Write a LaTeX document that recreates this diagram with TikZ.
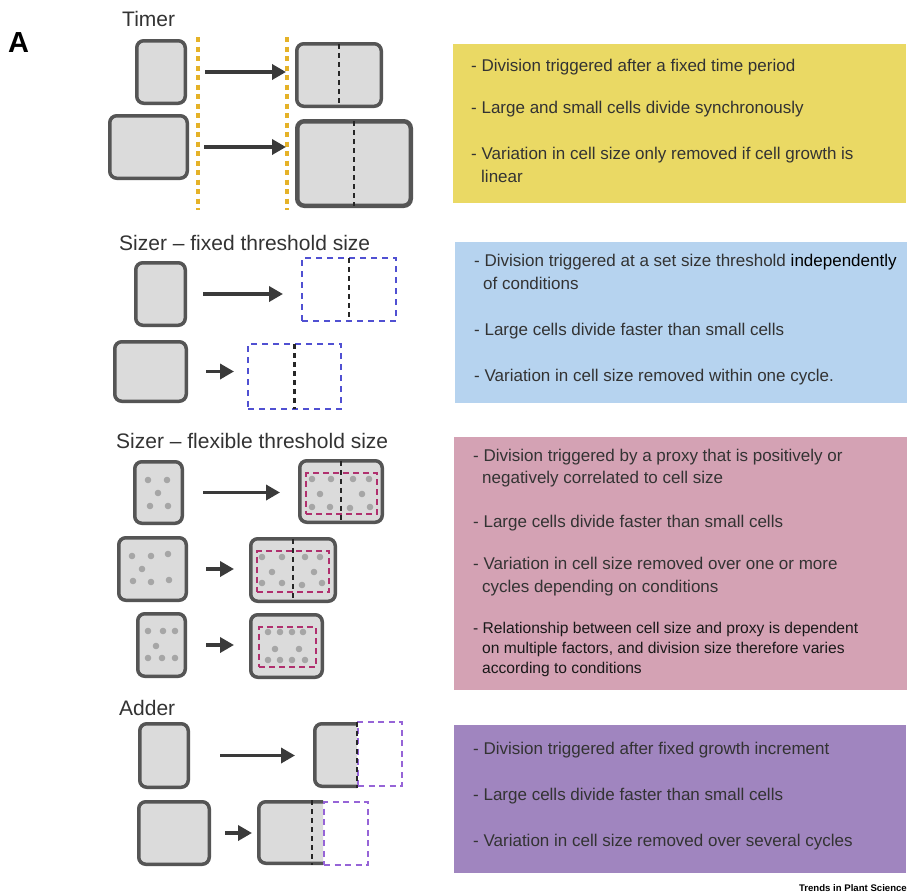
\documentclass[tikz,border=0pt]{standalone}
\usepackage{fontspec}
\setmainfont{Liberation Sans}
\usetikzlibrary{arrows.meta,calc}
\definecolor{cellfill}{RGB}{219,219,219}
\definecolor{celldraw}{RGB}{85,85,85}
\definecolor{arrowc}{RGB}{58,58,58}
\definecolor{gold}{RGB}{229,178,40}
\definecolor{bluedash}{RGB}{80,80,210}
\definecolor{pinkdash}{RGB}{176,48,110}
\definecolor{purpdash}{RGB}{150,100,215}
\definecolor{dotc}{RGB}{166,166,166}
\definecolor{yellowbg}{RGB}{234,217,100}
\definecolor{bluebg}{RGB}{182,211,239}
\definecolor{pinkbg}{RGB}{212,162,180}
\definecolor{purplebg}{RGB}{160,133,191}
\definecolor{textc}{RGB}{51,51,51}
\newcommand{\mkrect}[7]{\node[#2, minimum width={#5-#3-#7}, minimum height={#6-#4-#7}] (#1) at ({(#3+#5)/2},{(#4+#6)/2}) {};}
\tikzset{
 cell/.style={draw=celldraw, fill=cellfill, line width=3.5pt, rounded corners=7pt, inner sep=0pt, outer sep=0pt},
 thickcell/.style={cell, line width=4.5pt},
 bluebox/.style={draw=bluedash, line width=2pt, dash pattern=on 6pt off 5pt, inner sep=0pt, outer sep=0pt},
 pinkbox/.style={draw=pinkdash, line width=2.2pt, dash pattern=on 6pt off 4pt, inner sep=0pt, outer sep=0pt},
 purpbox/.style={draw=purpdash, line width=2pt, dash pattern=on 6pt off 4.5pt, inner sep=0pt, outer sep=0pt},
 divider/.style={draw=black!85, line width=2.6pt, dash pattern=on 5pt off 4pt},
 goldline/.style={draw=gold, line width=3.5pt, dash pattern=on 5pt off 4.5pt},
 arr/.style={draw=arrowc, line width=3.7pt, -{Triangle[length=14pt,width=15pt]}},
 bg/.style={fill=#1, draw=none, inner sep=0pt, outer sep=0pt},
 title/.style={anchor=base west, inner sep=0pt, text=textc, font=\fontsize{21}{25}\selectfont},
 tl/.style={anchor=base west, inner sep=0pt, text=textc, font=\fontsize{17}{23}\selectfont},
 tls/.style={anchor=base west, inner sep=0pt, text=black!90, font=\fontsize{15.6}{20}\selectfont},
 cdot/.style={fill=dotc},
}
\begin{document}
\begin{tikzpicture}[x=1pt,y=-1pt]
\useasboundingbox[fill=white] (0,0) rectangle (908,894);

% ---------- panel label ----------
\node[anchor=base west, inner sep=0pt, font=\fontsize{29}{32}\selectfont\bfseries] (lblA) at (8,52) {A};

% ---------- background text boxes ----------
\mkrect{ybox}{bg=yellowbg}{453}{44}{906}{203}{0}
\mkrect{bbox}{bg=bluebg}{455}{242}{907}{403}{0}
\mkrect{pbox}{bg=pinkbg}{454}{437}{907}{690}{0}
\mkrect{ubox}{bg=purplebg}{454}{725}{906}{873}{0}

% ---------- titles ----------
\node[title] (tT) at (122,26) {Timer};
\node[title] (tS) at (119,250) {Sizer – fixed threshold size};
\node[title] (tF) at (116,448) {Sizer – flexible threshold size};
\node[title] (tA) at (119,715) {Adder};

% ---------- Timer ----------
\draw[goldline] (198,37) -- (198,210);
\draw[goldline] (287,37) -- (287,210);
\mkrect{t1}{cell}{135}{39}{187}{105}{3.5}
\mkrect{t2}{cell}{108}{114}{189}{180}{3.5}
\mkrect{r1}{cell}{295}{42}{383}{108}{3.5}
\mkrect{r2}{thickcell}{295}{119}{413}{208}{4.5}
\draw[divider] (r1.north) -- (r1.south);
\draw[divider] (r2.north) -- (r2.south);
\draw[arr, shorten >=10.75pt] ([xshift=19.75pt]t1.east) -- (t1.east -| r1.west);
\draw[arr, shorten >=11.25pt] ([xshift=16.75pt]t2.east) -- (t2.east -| r2.west);

% ---------- Sizer fixed ----------
\mkrect{s1}{cell}{134}{261}{187}{327}{3.5}
\mkrect{s2}{cell}{113}{340}{188}{403}{3.5}
\mkrect{sb1}{bluebox}{301}{257}{397}{322}{2}
\mkrect{sb2}{bluebox}{247}{343}{342}{410}{2}
\draw[divider] (sb1.north) -- (sb1.south);
\draw[divider] (sb2.north) -- (sb2.south);
\draw[arr, shorten >=19pt] ([xshift=17.75pt]s1.east) -- (s1.east -| sb1.west);
\draw[arr, shorten >=14pt] ([xshift=19.75pt]s2.east) -- (s2.east -| sb2.west);

% ---------- Sizer flexible ----------
\mkrect{f1}{cell}{133}{460}{184}{525}{3.5}
\mkrect{f2}{cell}{117}{536}{188}{602}{3.5}
\mkrect{f3}{cell}{136}{612}{187}{678}{3.5}
\mkrect{fr1}{cell}{298}{459}{384}{524}{3.5}
\mkrect{fr2}{cell}{249}{537}{337}{603}{3.5}
\mkrect{fr3}{cell}{249}{613}{324}{679}{3.5}
\draw[divider] (fr1.north) -- (fr1.south);
\draw[divider] (fr2.north) -- (fr2.south);
\mkrect{fp1}{pinkbox}{305}{472}{378}{515}{2.2}
\mkrect{fp2}{pinkbox}{256}{550}{330}{593}{2.2}
\mkrect{fp3}{pinkbox}{258}{626}{317}{668}{2.2}
\foreach \p in {(148,480),(167,480),(158,493),(150,506),(168,506),
  (312,479),(331,479),(353,479),(369,479),(320,494),(362,494),(312,507),(330,507),(350,508),(370,507),
  (132,556),(151,556),(168,554),(142,569),(133,581),(151,582),(169,580),
  (262,557),(282,557),(305,557),(320,557),(272,572),(314,572),(262,583),(282,583),(302,585),(322,583),
  (148,631),(163,631),(175,631),(156,646),(148,658),(162,658),(175,658),
  (268,632),(280,632),(292,632),(303,632),(275,649),(299,649),(268,660),(280,660),(292,660),(305,660)}
  \fill[cdot] \p circle (3.3pt);
\draw[arr, shorten >=19.75pt] ([xshift=20.75pt]f1.east) -- (f1.east -| fr1.west);
\draw[arr, shorten >=16.75pt] ([xshift=19.75pt]f2.east) -- (f2.east -| fr2.west);
\draw[arr, shorten >=16.75pt] ([xshift=20.75pt]f3.east) -- (f3.east -| fr3.west);

% ---------- Adder ----------
\mkrect{a1}{cell}{138}{722}{190}{789}{3.5}
\mkrect{a2}{cell}{137}{800}{211}{866}{3.5}
\begin{scope}
\clip (300,700) rectangle (357,800);
\mkrect{ar1}{cell}{313}{722}{372}{788}{3.5}
\end{scope}
\begin{scope}
\clip (240,790) rectangle (323,880);
\mkrect{ar2}{cell}{257}{800}{338}{865}{3.5}
\end{scope}
\mkrect{ap1}{purpbox}{357}{721}{403}{787}{2}
\mkrect{ap2}{purpbox}{323}{801}{369}{866}{2}
\draw[divider] (357,722) -- (357,788);
\draw[divider] (312,800) -- (312,865);
\draw[arr, shorten >=19.75pt] ([xshift=31.75pt]a1.east) -- (a1.east -| ar1.west);
\draw[arr, shorten >=6.75pt] ([xshift=15.75pt]a2.east) -- (a2.east -| ar2.west);

% ---------- Text: Timer ----------
\node[tl] (y1) at (471,71) {- Division triggered after a fixed time period};
\node[tl] (y2) at (471,113) {- Large and small cells divide synchronously};
\node[tl] (y3) at (471,159) {- Variation in cell size only removed if cell growth is};
\node[tl] (y3b) at (481,182) {linear};

% ---------- Text: Sizer fixed ----------
\node[tl] (b1) at (474,266) {- Division triggered at a set size threshold \textcolor{black}{independently}};
\node[tl] (b1b) at (483,289) {of conditions};
\node[tl] (b2) at (474,335) {- Large cells divide faster than small cells};
\node[tl] (b3) at (474,381) {- Variation in cell size removed within one cycle.};

% ---------- Text: Sizer flexible ----------
\node[tl] (p1) at (473,461) {- Division triggered by a proxy that is positively or};
\node[tl] (p1b) at (482,483) {negatively correlated to cell size};
\node[tl] (p2) at (473,527) {- Large cells divide faster than small cells};
\node[tl] (p3) at (473,569) {- Variation in cell size removed over one or more};
\node[tl] (p3b) at (482,592) {cycles depending on conditions};
\node[tls] (p4) at (473,633) {- Relationship between cell size and proxy is dependent};
\node[tls] (p4b) at (482,653) {on multiple factors, and division size therefore varies};
\node[tls] (p4c) at (482,673) {according to conditions};

% ---------- Text: Adder ----------
\node[tl] (u1) at (473,754) {- Division triggered after fixed growth increment};
\node[tl] (u2) at (473,800) {- Large cells divide faster than small cells};
\node[tl] (u3) at (473,846) {- Variation in cell size removed over several cycles};

% ---------- credit ----------
\node[anchor=base east, inner sep=0pt, font=\fontsize{9.6}{11}\selectfont\bfseries] (credit) at (907,891) {Trends in Plant Science};
\end{tikzpicture}
\end{document}
